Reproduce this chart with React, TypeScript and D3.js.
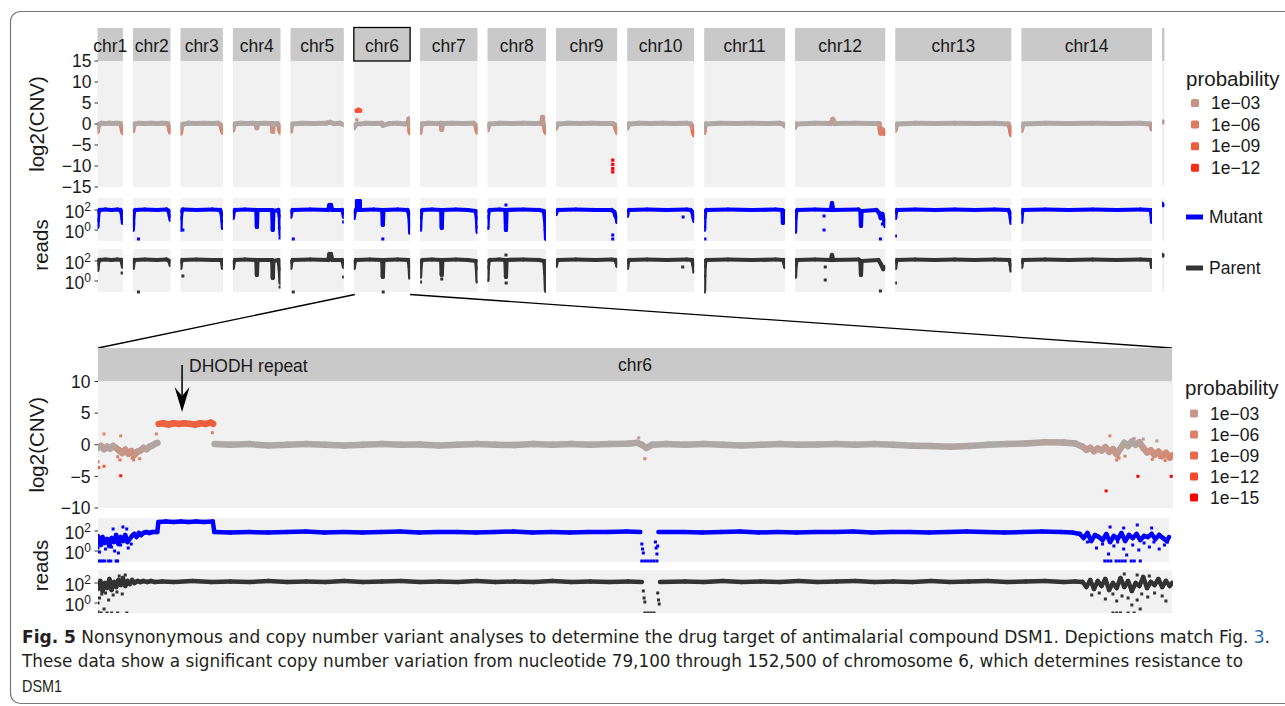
import React from "react";
import * as d3 from "d3";

type Pt = [number, number];
type Sc = [number, number, number];

// ---------------- data ----------------
const chromosomes = ["chr1", "chr2", "chr3", "chr4", "chr5", "chr6", "chr7", "chr8", "chr9", "chr10", "chr11", "chr12", "chr13", "chr14", "API"];
const chrLengthMb = [0.640, 0.947, 1.068, 1.200, 1.344, 1.418, 1.446, 1.473, 1.542, 1.688, 2.039, 2.272, 2.925, 3.292, 0.035];

// genome-wide log2(CNV) profiles [Mb, log2]; NaN = no coverage gap
const cnvTop: Pt[][] = [
  [[0,-1.8],[0.01,-1.0],[0.03,-0.1],[0.1,0.2],[0.2,0.1],[0.3,0.2],[0.4,0.1],[0.5,0.2],[0.58,0.1],[0.605,-0.5],[0.625,-1.4],[0.64,-2.1]],
  [[0,-1.6],[0.015,-0.6],[0.04,0.0],[0.15,0.2],[0.3,0.1],[0.45,0.2],[0.6,0.1],[0.75,0.2],[0.88,0.1],[0.91,-0.6],[0.93,-1.5],[0.947,-2.0]],
  [[0,-2.2],[0.02,-1.0],[0.05,-0.1],[0.2,0.2],[0.4,0.1],[0.6,0.2],[0.8,0.1],[0.95,0.2],[1.02,-0.3],[1.045,-1.2],[1.068,-2.0]],
  [[0,-1.5],[0.02,-0.5],[0.05,0.0],[0.2,0.2],[0.35,0.1],[0.5,0.2],[0.59,0.1],[0.605,-0.9],[0.62,0.1],[0.8,0.2],[0.99,0.1],[1.005,-1.8],[1.02,0.0],[1.12,0.1],[1.16,-0.4],[1.18,-1.4],[1.2,-2.0]],
  [[0,-1.8],[0.02,-0.6],[0.05,0.0],[0.3,0.2],[0.6,0.1],[0.9,0.2],[1.0,0.4],[1.1,0.1],[1.25,0.2],[1.344,-0.2]],
  [[0,-0.9],[0.02,-0.4],[0.05,-0.2],[0.078,0.0],[0.0785,NaN],[0.079,3.2],[0.115,3.3],[0.152,3.2],[0.1525,NaN],[0.153,0.0],[0.3,0.2],[0.5,0.1],[0.7,0.2],[0.73,-0.3],[0.9,0.1],[1.1,0.2],[1.3,0.0],[1.37,0.3],[1.385,1.2],[1.395,0.0],[1.41,-1.5],[1.418,-2.1]],
  [[0,-2.0],[0.015,-0.8],[0.04,0.0],[0.2,0.2],[0.4,0.1],[0.53,0.2],[0.545,-1.3],[0.56,0.1],[0.8,0.2],[1.1,0.1],[1.35,0.2],[1.40,-0.3],[1.425,-1.2],[1.446,-2.0]],
  [[0,-1.4],[0.02,-0.5],[0.05,0.0],[0.3,0.2],[0.6,0.1],[0.9,0.2],[1.2,0.1],[1.37,0.2],[1.385,1.6],[1.40,0.1],[1.44,-0.8],[1.455,-1.6],[1.473,-2.0]],
  [[0,-1.0],[0.02,-0.3],[0.05,0.0],[0.3,0.2],[0.6,0.1],[0.9,0.2],[1.2,0.1],[1.42,0.1],[1.48,-0.2],[1.51,-1.0],[1.542,-2.0]],
  [[0,-1.0],[0.02,-0.3],[0.05,0.0],[0.3,0.2],[0.6,0.1],[0.9,0.2],[1.2,0.1],[1.5,0.2],[1.6,0.0],[1.64,-0.6],[1.665,-1.8],[1.688,-2.6]],
  [[0,-2.0],[0.015,-0.8],[0.04,0.0],[0.4,0.2],[0.8,0.1],[1.2,0.2],[1.6,0.1],[1.9,0.2],[2.0,-0.1],[2.039,-0.5]],
  [[0,-0.8],[0.03,0.0],[0.5,0.2],[0.9,0.1],[0.95,1.1],[1.0,0.1],[1.5,0.2],[1.9,0.1],[2.12,0.1],[2.14,-1.2],[2.16,-2.2],[2.2,-1.4],[2.24,-2.2],[2.272,-1.9]],
  [[0,-1.5],[0.02,-0.5],[0.05,0.0],[0.5,0.2],[1.0,0.1],[1.5,0.2],[2.0,0.1],[2.5,0.2],[2.85,0.0],[2.89,-0.8],[2.91,-1.8],[2.925,-2.6]],
  [[0,-1.6],[0.02,-0.6],[0.05,0.0],[0.6,0.2],[1.2,0.1],[1.8,0.2],[2.4,0.1],[3.0,0.2],[3.25,0.0],[3.275,-0.6],[3.292,-1.2]],
  [[0.005,0.5],[0.015,0.5]],
];
// [chromosome index, Mb, log2]
const cnvTopScatter: Sc[] = [[8,1.43,-8.6],[8,1.43,-9.6],[8,1.43,-10.6],[8,1.43,-11.4],[5,0.076,1.0]];

// genome-wide read depth profiles [Mb, log10 reads]
const mutantTop: Pt[][] = [
  [[0,0.3],[0.01,1.0],[0.025,1.8],[0.05,2.0],[0.2,2.05],[0.35,2.0],[0.5,2.05],[0.58,2.0],[0.61,1.7],[0.63,1.1],[0.64,0.7]],
  [[0,0.0],[0.01,1.2],[0.03,1.9],[0.06,2.0],[0.3,2.05],[0.6,2.0],[0.85,2.05],[0.9,1.9],[0.93,1.4],[0.947,1.0]],
  [[0,0.0],[0.01,1.2],[0.03,1.9],[0.06,2.05],[0.4,2.0],[0.8,2.05],[1.0,2.0],[1.04,1.6],[1.058,0.9],[1.068,0.2]],
  [[0,1.2],[0.02,1.8],[0.05,2.0],[0.3,2.05],[0.59,2.0],[0.605,0.3],[0.62,2.0],[0.99,2.0],[1.005,0.0],[1.02,1.9],[1.15,2.0],[1.18,1.4],[1.2,-0.5]],
  [[0,1.3],[0.02,1.8],[0.05,2.0],[0.5,2.05],[0.95,2.0],[0.98,2.5],[1.02,2.5],[1.05,2.0],[1.3,2.0],[1.33,1.7],[1.344,1.3]],
  [[0,1.2],[0.02,1.8],[0.05,2.0],[0.078,2.0],[0.079,2.9],[0.152,2.9],[0.153,2.0],[0.5,2.05],[0.715,2.0],[0.73,0.5],[0.745,2.0],[1.1,2.05],[1.35,2.0],[1.39,1.6],[1.41,0.8],[1.418,-0.3]],
  [[0,0.0],[0.01,1.2],[0.03,1.9],[0.06,2.0],[0.3,2.05],[0.53,2.0],[0.545,0.2],[0.56,2.0],[0.9,2.05],[1.2,2.0],[1.4,1.9],[1.43,1.2],[1.446,-0.2]],
  [[0,0.2],[0.01,1.3],[0.03,1.9],[0.06,2.0],[0.3,2.05],[0.45,2.0],[0.465,0.0],[0.48,2.0],[0.9,2.05],[1.3,2.0],[1.42,1.9],[1.45,1.0],[1.465,0.0],[1.473,-0.9]],
  [[0,1.6],[0.02,1.9],[0.05,2.0],[0.5,2.05],[1.0,2.0],[1.4,2.0],[1.47,1.8],[1.5,1.4],[1.53,1.2],[1.542,0.8]],
  [[0,1.4],[0.02,1.9],[0.05,2.0],[0.5,2.05],[1.0,2.0],[1.5,2.05],[1.6,2.0],[1.64,1.8],[1.67,1.3],[1.688,0.9]],
  [[0,0.0],[0.01,1.3],[0.03,1.9],[0.06,2.0],[0.6,2.05],[1.2,2.0],[1.8,2.05],[1.97,2.0],[1.985,0.7],[2.0,1.9],[2.039,1.9]],
  [[0,-0.2],[0.01,1.2],[0.03,1.9],[0.06,2.0],[0.5,2.05],[0.9,2.0],[0.93,2.7],[0.96,2.0],[1.6,2.05],[1.645,1.9],[1.66,0.4],[1.675,1.9],[2.05,2.0],[2.12,1.7],[2.16,1.2],[2.2,1.6],[2.24,1.0],[2.272,0.4]],
  [[0,1.2],[0.015,1.8],[0.04,2.0],[0.5,2.05],[1.0,2.0],[1.5,2.05],[2.0,2.0],[2.5,2.05],[2.85,2.0],[2.89,1.7],[2.91,1.2],[2.925,0.7]],
  [[0,0.8],[0.015,1.7],[0.04,2.0],[0.6,2.05],[1.2,2.0],[1.8,2.05],[2.4,2.0],[3.0,2.05],[3.26,2.0],[3.28,1.5],[3.292,0.8]],
  [[0.005,2.6],[0.015,2.5]],
];
const mutantTopScatter: Sc[] = [[0,0.635,0.8],[1,0.14,-0.9],[1,0.02,0.6],[2,0.06,0.0],[2,1.06,0.2],[3,0.61,0.8],[3,1.17,0.2],[3,1.19,-0.8],[4,0.07,-0.9],[4,1.34,0.8],[5,0.73,-0.9],[5,0.74,0.9],[5,1.41,0.4],[6,0.01,0.4],[6,0.55,0.9],[6,1.44,0.3],[7,0.005,0.2],[7,0.465,2.5],[7,0.47,0.6],[7,1.47,-0.8],[8,1.43,-0.9],[8,1.43,-0.5],[9,1.41,1.3],[10,0.01,0.3],[10,0.02,-0.9],[11,0.73,0.0],[11,0.73,1.4],[11,2.15,-0.9],[11,2.2,0.6],[12,0.005,-0.6]];

const parentTop: Pt[][] = [
  [[0,1.1],[0.015,1.8],[0.04,2.1],[0.2,2.15],[0.35,2.1],[0.5,2.15],[0.6,2.1],[0.625,1.8],[0.64,1.4]],
  [[0,1.3],[0.015,1.9],[0.04,2.1],[0.3,2.15],[0.6,2.1],[0.85,2.15],[0.92,2.0],[0.947,1.6]],
  [[0,1.3],[0.015,1.9],[0.04,2.1],[0.4,2.15],[0.8,2.1],[1.04,2.1],[1.058,1.7],[1.068,1.3]],
  [[0,1.3],[0.02,1.9],[0.05,2.1],[0.3,2.15],[0.59,2.1],[0.605,0.6],[0.62,2.1],[0.99,2.1],[1.005,0.3],[1.02,2.0],[1.15,2.1],[1.18,1.2],[1.2,-0.2]],
  [[0,1.3],[0.02,1.9],[0.05,2.1],[0.5,2.15],[0.95,2.1],[0.98,2.7],[1.02,2.7],[1.05,2.1],[1.3,2.1],[1.33,1.8],[1.344,1.4]],
  [[0,1.3],[0.02,1.9],[0.05,2.1],[0.4,2.15],[0.715,2.1],[0.73,0.4],[0.745,2.1],[1.1,2.15],[1.38,2.1],[1.405,1.4],[1.418,0.4]],
  [[0,0.4],[0.01,1.4],[0.03,2.0],[0.06,2.1],[0.3,2.15],[0.53,2.1],[0.545,0.6],[0.56,2.1],[0.9,2.15],[1.2,2.1],[1.41,2.0],[1.43,1.3],[1.446,0.0]],
  [[0,0.1],[0.01,1.4],[0.03,2.0],[0.06,2.1],[0.3,2.15],[0.45,2.1],[0.465,0.4],[0.48,2.1],[0.9,2.15],[1.3,2.1],[1.43,2.0],[1.455,0.8],[1.473,-1.0]],
  [[0,1.5],[0.02,2.0],[0.05,2.1],[0.5,2.15],[1.0,2.1],[1.4,2.15],[1.5,2.1],[1.53,1.8],[1.542,1.5]],
  [[0,1.3],[0.02,1.9],[0.05,2.1],[0.5,2.15],[1.0,2.1],[1.5,2.15],[1.64,2.1],[1.67,1.6],[1.688,1.1]],
  [[0,-0.9],[0.005,0.5],[0.015,1.5],[0.03,2.0],[0.06,2.1],[0.6,2.15],[1.2,2.1],[1.8,2.15],[2.0,2.1],[2.039,1.4]],
  [[0,0.4],[0.015,1.6],[0.04,2.1],[0.5,2.15],[0.9,2.1],[0.93,2.6],[0.96,2.1],[1.6,2.15],[1.645,2.0],[1.66,0.6],[1.675,2.0],[2.1,2.1],[2.16,1.7],[2.22,1.2],[2.272,1.4]],
  [[0,1.3],[0.015,1.9],[0.04,2.1],[0.5,2.15],[1.0,2.1],[1.5,2.15],[2.0,2.1],[2.5,2.15],[2.88,2.1],[2.91,1.6],[2.925,1.1]],
  [[0,1.4],[0.015,1.9],[0.04,2.1],[0.6,2.15],[1.2,2.1],[1.8,2.15],[2.4,2.1],[3.0,2.15],[3.27,2.1],[3.285,1.7],[3.292,1.4]],
  [[0.005,2.6],[0.015,2.55]],
];
const parentTopScatter: Sc[] = [[0,0.62,0.8],[1,0.14,-1.1],[2,0.06,0.5],[3,0.62,1.0],[3,1.19,-0.6],[4,0.07,-1.1],[4,1.34,0.4],[5,0.73,0.8],[5,0.74,-1.1],[5,1.41,0.3],[6,0.01,-0.1],[6,0.545,0.2],[6,1.44,-0.1],[7,0.005,0.1],[7,0.465,2.6],[7,0.47,-0.2],[7,1.47,-0.6],[9,1.40,1.4],[9,1.68,0.9],[10,0.005,-1.1],[11,0.76,1.4],[11,0.76,0.1],[11,2.15,-1.0],[12,0.005,-0.2],[12,2.92,1.0]];

// chr6 zoom [kb, value]
const zoomChromosome = "chr6";
const zoomLengthKb = 1418;
const cnvBottom: Pt[] = [
  [0,-0.5],[4,-0.2],[8,-0.7],[12,-0.3],[16,-0.6],[20,-0.2],[24,-0.5],[28,-0.9],[32,-1.3],[36,-0.8],[40,-1.4],[44,-1.0],[48,-1.6],[52,-1.1],[56,-0.9],[60,-0.5],[64,-0.7],[68,-0.3],[72,-0.1],[76,0.2],[78.5,0.3],[79,NaN],
  [80,3.3],[86,3.4],[93,3.2],[100,3.4],[107,3.3],[114,3.4],[121,3.3],[128,3.2],[135,3.4],[142,3.3],[149,3.5],[152,3.3],[152.5,NaN],
  [154,0.1],[175,0.0],[200,0.1],[225,-0.1],[250,0.0],[275,0.1],[300,0.0],[325,-0.1],[350,0.0],[375,0.1],[400,0.0],[425,0.05],[450,-0.1],[475,0.0],[500,0.1],[525,0.0],[550,-0.05],[575,0.1],[600,0.0],[625,0.1],[650,0.0],[675,0.1],[700,0.15],[712,0.3],[718,0.0],[724,-0.5],[732,0.0],[750,0.1],[775,0.0],[800,0.1],[825,0.0],[850,-0.1],[875,0.0],[900,0.1],[925,0.0],[950,0.05],[975,0.1],[1000,0.0],[1025,0.1],[1050,0.0],[1075,-0.15],[1100,-0.2],[1125,-0.3],[1150,-0.2],[1175,0.0],[1200,0.1],[1225,0.2],[1250,0.4],[1275,0.35],[1290,0.2],
  [1300,-0.3],[1305,-0.8],[1310,-0.5],[1315,-1.0],[1320,-0.6],[1325,-0.9],[1330,-0.4],[1335,-1.1],[1340,-0.7],[1345,-1.5],[1350,-0.6],[1355,0.3],[1360,-0.2],[1365,0.5],[1370,0.0],[1375,0.4],[1380,-0.5],[1385,-1.2],[1390,-0.9],[1395,-1.6],[1400,-1.1],[1405,-1.8],[1410,-1.3],[1415,-2.0],[1418,-1.7],
];
const cnvBottomScatter: Pt[] = [[0,-2.7],[1,-3.6],[8,-3.4],[8,1.7],[30,-4.9],[30,1.4],[29,-2.4],[47,-2.4],[26,-1.9],[45,-2.1],[55,-2.2],[77,1.7],[151,1.9],[722,-2.2],[714,1.1],[1336,1.4],[1331,-7.3],[1373,-5.0],[1417,-5.0],[1345,-2.4],[1348,-2.1],[1368,1.0],[1392,-2.3],[1402,-2.0],[1409,-2.5],[1356,-1.8],[1380,0.9],[1398,0.6]];

const mutantBottom: Pt[] = [
  [0,1.5],[3,0.6],[6,1.4],[9,0.8],[12,1.2],[15,0.5],[18,1.3],[21,0.9],[24,1.6],[27,0.7],[30,1.4],[33,1.0],[36,1.6],[39,0.9],[42,1.2],[45,1.5],[48,1.7],[51,1.4],[54,1.8],[57,1.6],[60,1.8],[64,1.9],[68,1.8],[72,1.9],[76,1.9],[78.5,1.9],
  [80,2.9],[90,2.95],[100,2.9],[110,2.95],[120,2.9],[130,2.95],[140,2.9],[152,2.95],
  [154,1.9],[175,1.85],[200,1.9],[225,1.85],[250,1.9],[275,1.95],[300,1.85],[325,1.9],[350,1.85],[375,1.9],[400,1.95],[425,1.85],[450,1.9],[475,1.9],[500,1.85],[525,1.9],[550,1.95],[575,1.85],[600,1.9],[625,1.85],[650,1.9],[675,1.9],[700,1.95],[718,1.9],[730,NaN],[742,1.9],[775,1.9],[800,1.85],[825,1.9],[850,1.95],[875,1.85],[900,1.9],[925,1.85],[950,1.9],[975,1.9],[1000,1.95],[1025,1.85],[1050,1.9],[1075,1.9],[1100,1.85],[1125,1.9],[1150,1.95],[1175,1.9],[1200,1.85],[1225,1.9],[1250,1.95],[1275,1.9],[1290,1.85],
  [1300,1.7],[1305,1.3],[1310,1.8],[1315,1.0],[1320,1.6],[1325,1.4],[1330,1.1],[1335,1.7],[1340,0.9],[1345,1.5],[1350,1.2],[1355,1.8],[1360,1.0],[1365,1.6],[1370,1.3],[1375,1.7],[1380,1.1],[1385,1.5],[1390,1.4],[1395,1.7],[1400,1.2],[1405,1.6],[1410,1.3],[1415,1.0],[1418,1.4],
];
const mutantBottomScatter: Pt[] = [[0,0.3],[2,-0.1],[5,0.6],[10,0.2],[13,0.9],[18,0.4],[22,0.0],[27,-0.2],[30,0.6],[20,2.2],[33,2.4],[38,2.2],[44,0.7],[40,0.3],
  [0,-1],[3,-1],[6,-1],[9,-1],[14,-1],[17,-1],[24,-1],[26,-1],
  [720,0.7],[721,0.2],[722,-0.2],[738,0.9],[739,0.3],[740,-0.3],[741,0.5],[720,-1],[724,-1],[728,-1],[732,-1],[736,-1],[740,-1],
  [1310,0.9],[1322,0.3],[1330,0.7],[1338,-0.3],[1345,0.5],[1350,0.9],[1358,0.2],[1362,-0.4],[1370,0.6],[1378,0.1],[1385,0.8],[1392,0.4],[1398,0.9],[1405,0.2],[1412,0.6],[1416,0.9],[1340,2.4],[1358,2.3],[1376,2.6],[1395,2.3],
  [1333,-1],[1337,-1],[1341,-1],[1348,-1],[1352,-1],[1356,-1],[1360,-1],[1368,-1],[1372,-1],[1380,-1]];

const parentBottom: Pt[] = [
  [0,1.4],[3,2.2],[6,1.2],[9,2.0],[12,1.5],[15,2.4],[18,1.3],[21,2.1],[24,1.6],[27,2.3],[30,1.8],[33,2.5],[36,1.7],[39,2.2],[42,1.9],[45,2.3],[48,2.0],[52,2.2],[56,2.1],[60,2.2],[65,2.1],[70,2.2],[75,2.1],[85,2.15],[100,2.1],[125,2.2],[150,2.1],[175,2.15],[200,2.1],[225,2.2],[250,2.1],[275,2.15],[300,2.1],[325,2.2],[350,2.1],[375,2.15],[400,2.2],[425,2.1],[450,2.15],[475,2.1],[500,2.2],[525,2.1],[550,2.15],[575,2.1],[600,2.2],[625,2.1],[650,2.15],[675,2.1],[700,2.15],[718,2.1],[730,NaN],[742,2.1],[775,2.15],[800,2.1],[825,2.2],[850,2.1],[875,2.15],[900,2.1],[925,2.2],[950,2.1],[975,2.15],[1000,2.2],[1025,2.1],[1050,2.15],[1075,2.1],[1100,2.2],[1125,2.1],[1150,2.15],[1175,2.2],[1200,2.1],[1225,2.15],[1250,2.2],[1275,2.1],[1290,2.15],
  [1300,2.1],[1305,1.6],[1310,2.3],[1315,1.4],[1320,2.2],[1325,1.7],[1330,2.4],[1335,1.3],[1340,2.0],[1345,1.5],[1350,2.5],[1355,1.6],[1360,2.2],[1365,1.2],[1370,2.0],[1375,1.7],[1380,2.6],[1385,1.5],[1390,2.1],[1395,1.8],[1400,2.4],[1405,1.6],[1410,2.2],[1415,1.7],[1418,2.0],
];
const parentBottomScatter: Pt[] = [[0,0.0],[2,0.5],[5,0.9],[10,1.0],[14,0.3],[20,0.8],[25,1.1],[32,0.9],[28,2.7],[36,2.8],[0,-0.9],[4,-1],[8,-0.6],[12,-1],[18,-1],[26,-1],[38,-1],
  [720,1.2],[721,0.5],[722,0.1],[739,1.0],[740,0.3],[741,-0.1],[722,-1],[726,-1],[730,-1],[734,-1],
  [1312,0.8],[1322,1.0],[1330,0.4],[1340,0.9],[1345,0.2],[1352,0.7],[1360,0.5],[1365,-0.2],[1372,0.3],[1378,0.9],[1386,0.6],[1395,1.0],[1405,0.7],[1410,0.2],[1372,2.8],[1388,2.7],[1355,2.9],[1340,-1],[1345,-1],[1350,-1],[1360,-1],[1368,-1],[1376,-0.6]];

const cnvTopTicks = [15, 10, 5, 0, -5, -10, -15];
const cnvBottomTicks = [10, 5, 0, -5, -10];
const readTicks = [2, 0];
const probBreaksTop = [3, 6, 9, 12];
const probBreaksBottom = [3, 6, 9, 12, 15];
const readSeries = ["Mutant", "Parent"];
const readColors = ["#0000ff", "#333333"];
const annotationLabel = "DHODH repeat";
const annotationKb = 111;

const captionBold = "Fig. 5";
const captionLine1 = "  Nonsynonymous and copy number variant analyses to determine the drug target of antimalarial compound DSM1. Depictions match Fig. ";
const captionLink = "3";
const captionLine2 = "These data show a significant copy number variation from nucleotide 79,100 through 152,500 of chromosome 6, which determines resistance to";
const captionLine3 = "DSM1";

// ---------------- layout ----------------
const FONT = "'Liberation Sans', Arial, Helvetica, sans-serif";
const W = 1285, H = 706;
const X_LEFT = 97.5, X_RIGHT = 1152, GAP = 10;
const TOP = { strip: [28, 61], cnv: [61, 187], mut: [198, 241], par: [249, 292] };
const BOT = { strip: [348, 381.5], cnv: [381.5, 508], mut: [518, 562], par: [570, 613] };
const BX0 = 98, BX1 = 1172;

const mainLen = d3.sum(chrLengthMb.slice(0, 14));
const pxPerMb = (X_RIGHT - X_LEFT - GAP * 13) / mainLen;
const facets = chromosomes.map((name, i) => {
  const x = X_LEFT + d3.sum(chrLengthMb.slice(0, i)) * pxPerMb + GAP * i;
  const w = Math.max(2.5, chrLengthMb[i] * pxPerMb);
  return { name, x, w, xs: d3.scaleLinear().domain([0, chrLengthMb[i]]).range([x, x + w]) };
});

const yCnvTop = d3.scaleLinear().domain([-15, 15]).range([TOP.cnv[1], TOP.cnv[0]]);
const yMutTop = d3.scaleLinear().domain([-1.1, 3.2]).range([TOP.mut[1], TOP.mut[0]]);
const yParTop = d3.scaleLinear().domain([-1.1, 3.2]).range([TOP.par[1], TOP.par[0]]);
const yCnvBot = d3.scaleLinear().domain([-10, 10]).range([BOT.cnv[1], BOT.cnv[0]]);
const yMutBot = d3.scaleLinear().domain([-1.1, 3.3]).range([BOT.mut[1], BOT.mut[0]]);
const yParBot = d3.scaleLinear().domain([-1.0, 3.3]).range([BOT.par[1], BOT.par[0]]);
const xBot = d3.scaleLinear().domain([0, zoomLengthKb]).range([BX0, BX1]);
const xBotMut = d3.scaleLinear().domain([0, zoomLengthKb]).range([BX0, 1169]);

const grad = d3.interpolateLab("#aaaaaa", "#ff0000");
const score = (v: number) => 3 * Math.abs(v); // -log10 probability
const colorTop = (v: number) => grad(Math.min(1, score(v) / 13));
const colorBot = (v: number) => grad(Math.min(1, score(v) / 15));
const legendColorTop = (k: number) => grad(Math.min(1, k / 13));
const legendColorBot = (k: number) => grad(Math.min(1, k / 15));

function band(pts: Pt[], xs: (v: number) => number, ys: (v: number) => number, col: (v: number) => string, width: number, key: string) {
  const out: React.ReactNode[] = [];
  for (let i = 0; i < pts.length - 1; i++) {
    const [a, va] = pts[i];
    const [b, vb] = pts[i + 1];
    if (isNaN(va) || isNaN(vb)) continue;
    out.push(<line key={key + i} x1={xs(a)} y1={ys(va)} x2={xs(b)} y2={ys(vb)} stroke={col((Math.abs(va) + Math.abs(vb)) / 2)} strokeWidth={width} strokeLinecap="round" />);
  }
  return out;
}

function dots(pts: Pt[], xs: (v: number) => number, ys: (v: number) => number, col: (v: number) => string, key: string, s = 3) {
  return pts.map(([a, v], i) => <rect key={key + i} x={xs(a) - s / 2} y={ys(v) - s / 2} width={s} height={s} fill={col(v)} />);
}

function ReadTick({ x, y, e }: { x: number; y: number; e: number }) {
  return (
    <g>
      <line x1={94.5} x2={98} y1={y} y2={y} stroke="#333" strokeWidth={1} />
      <text x={x} y={y + 7.5} textAnchor="end" fontSize={17.5} fill="#1a1a1a">10<tspan dy={-7} fontSize={12}>{e}</tspan></text>
    </g>
  );
}

export default function App() {
  const blue = () => readColors[0];
  const dark = () => readColors[1];
  const ax = xBot(annotationKb);
  return (
    <svg width={W} height={H} viewBox={`0 0 ${W} ${H}`} style={{ position: "absolute", left: 0, top: 0, display: "block", background: "#fff" }} fontFamily={FONT}>
      <defs>
        {facets.map((f, i) => (
          <clipPath id={"cf" + i} key={i}><rect x={f.x} y={0} width={f.w} height={300} /></clipPath>
        ))}
        <clipPath id="cb"><rect x={BX0} y={BOT.cnv[0]} width={BX1 - BX0 + 1} height={BOT.par[1] - BOT.cnv[0]} /></clipPath>
      </defs>
      {/* frame */}
      <rect x={10.5} y={11.5} width={1300} height={692} rx={10} fill="none" stroke="#777" strokeWidth={1.2} />

      {/* ---------- top: genome-wide ---------- */}
      {facets.map((f, i) => (
        <g key={"f" + i}>
          <rect x={f.x} y={TOP.strip[0]} width={f.w} height={TOP.strip[1] - TOP.strip[0]} fill="#c9c9c9" />
          <rect x={f.x} y={TOP.cnv[0]} width={f.w} height={TOP.cnv[1] - TOP.cnv[0]} fill="#f1f1f1" />
          <rect x={f.x} y={TOP.mut[0]} width={f.w} height={TOP.mut[1] - TOP.mut[0]} fill="#f1f1f1" />
          <rect x={f.x} y={TOP.par[0]} width={f.w} height={TOP.par[1] - TOP.par[0]} fill="#f1f1f1" />
          {f.w > 10 && (
            <text x={f.x + f.w / 2} y={51.5} textAnchor="middle" fontSize={17.5} fill="#1a1a1a">{f.name}</text>
          )}
          <g clipPath={`url(#cf${i})`}>
            {band(cnvTop[i], f.xs, yCnvTop, colorTop, 5, "c" + i)}
            {band(mutantTop[i], f.xs, yMutTop, blue, 4.2, "m" + i)}
            {band(parentTop[i], f.xs, yParTop, dark, 4.2, "p" + i)}
            {dots(cnvTopScatter.filter((d) => d[0] === i).map((d) => [d[1], d[2]] as Pt), f.xs, yCnvTop, colorTop, "cs" + i, 3.2)}
            {dots(mutantTopScatter.filter((d) => d[0] === i).map((d) => [d[1], d[2]] as Pt), f.xs, yMutTop, blue, "ms" + i)}
            {dots(parentTopScatter.filter((d) => d[0] === i).map((d) => [d[1], d[2]] as Pt), f.xs, yParTop, dark, "ps" + i)}
          </g>
        </g>
      ))}
      {/* highlight chr6 strip */}
      {facets.filter((f) => f.name === zoomChromosome).map((f) => (
        <rect key="hl" x={f.x} y={TOP.strip[0] - 0.5} width={f.w} height={TOP.strip[1] - TOP.strip[0] + 0.5} fill="none" stroke="#000" strokeWidth={1.3} />
      ))}
      {/* top axes */}
      {cnvTopTicks.map((t) => (
        <g key={"tt" + t}>
          <line x1={94.5} x2={98} y1={yCnvTop(t)} y2={yCnvTop(t)} stroke="#333" strokeWidth={1} />
          <text x={91.5} y={yCnvTop(t) + 6.2} textAnchor="end" fontSize={17.5} fill="#1a1a1a">{t < 0 ? "\u2212" + Math.abs(t) : t}</text>
        </g>
      ))}
      {readTicks.map((t) => <ReadTick key={"rm" + t} x={91} y={yMutTop(t)} e={t} />)}
      {readTicks.map((t) => <ReadTick key={"rp" + t} x={91} y={yParTop(t)} e={t} />)}
      <text transform={`translate(44,${(TOP.cnv[0] + TOP.cnv[1]) / 2}) rotate(-90)`} textAnchor="middle" fontSize={20.5} fill="#1a1a1a">log2(CNV)</text>
      <text transform={`translate(47.5,${(TOP.mut[0] + TOP.par[1]) / 2}) rotate(-90)`} textAnchor="middle" fontSize={20.5} fill="#1a1a1a">reads</text>

      {/* top legends */}
      <text x={1186} y={85.5} fontSize={20.5} fill="#1a1a1a">probability</text>
      {probBreaksTop.map((k, i) => {
        const cy = 103 + i * 21.6;
        return (
          <g key={"lt" + k}>
            <rect x={1191} y={cy - 4} width={8} height={8} rx={1.5} fill={legendColorTop(k)} />
            <text x={1211} y={cy + 6.2} fontSize={17.5} fill="#1a1a1a">{"1e\u2212" + String(k).padStart(2, "0")}</text>
          </g>
        );
      })}
      {readSeries.map((s, i) => {
        const cy = i === 0 ? 217 : 268;
        return (
          <g key={"ls" + s}>
            <line x1={1186} x2={1203} y1={cy} y2={cy} stroke={readColors[i]} strokeWidth={5} />
            <text x={1209} y={cy + 6.3} fontSize={17.5} fill="#1a1a1a">{s}</text>
          </g>
        );
      })}

      {/* zoom connector lines */}
      {facets.filter((f) => f.name === zoomChromosome).map((f) => (
        <g key="conn">
          <line x1={BX0} y1={BOT.strip[0]} x2={f.x + 1} y2={294.5} stroke="#000" strokeWidth={1.3} />
          <line x1={f.x + f.w} y1={294.5} x2={BX1} y2={BOT.strip[0]} stroke="#000" strokeWidth={1.3} />
        </g>
      ))}

      {/* ---------- bottom: chr6 ---------- */}
      <rect x={BX0} y={BOT.strip[0]} width={BX1 - BX0} height={BOT.strip[1] - BOT.strip[0]} fill="#c9c9c9" />
      <text x={(BX0 + BX1) / 2} y={371} textAnchor="middle" fontSize={17.5} fill="#1a1a1a">{zoomChromosome}</text>
      <rect x={BX0} y={BOT.cnv[0]} width={BX1 - BX0 + 1} height={BOT.cnv[1] - BOT.cnv[0]} fill="#f1f1f1" />
      <rect x={BX0} y={BOT.mut[0]} width={1169 - BX0} height={BOT.mut[1] - BOT.mut[0]} fill="#f1f1f1" />
      <rect x={BX0} y={BOT.par[0]} width={BX1 - BX0} height={BOT.par[1] - BOT.par[0]} fill="#f1f1f1" />
      <g clipPath="url(#cb)">
        {band(cnvBottom, xBot, yCnvBot, colorBot, 6.5, "bc")}
        {dots(cnvBottomScatter, xBot, yCnvBot, colorBot, "bcs")}
        {band(mutantBottom, xBotMut, yMutBot, blue, 4.5, "bm")}
        {dots(mutantBottomScatter, xBotMut, yMutBot, blue, "bms")}
        {band(parentBottom, xBot, yParBot, dark, 4.5, "bp")}
        {dots(parentBottomScatter, xBot, yParBot, dark, "bps")}
      </g>
      {cnvBottomTicks.map((t) => (
        <g key={"bt" + t}>
          <line x1={94.5} x2={98} y1={yCnvBot(t)} y2={yCnvBot(t)} stroke="#333" strokeWidth={1} />
          <text x={90.5} y={yCnvBot(t) + 6.2} textAnchor="end" fontSize={17.5} fill="#1a1a1a">{t < 0 ? "\u2212" + Math.abs(t) : t}</text>
        </g>
      ))}
      {readTicks.map((t) => <ReadTick key={"brm" + t} x={91} y={yMutBot(t)} e={t} />)}
      {readTicks.map((t) => <ReadTick key={"brp" + t} x={91} y={yParBot(t)} e={t} />)}
      <text transform={`translate(44,${(BOT.cnv[0] + BOT.cnv[1]) / 2}) rotate(-90)`} textAnchor="middle" fontSize={20.5} fill="#1a1a1a">log2(CNV)</text>
      <text transform={`translate(47.5,${(BOT.mut[0] + BOT.par[1]) / 2}) rotate(-90)`} textAnchor="middle" fontSize={20.5} fill="#1a1a1a">reads</text>

      {/* annotation */}
      <line x1={ax} x2={ax} y1={365} y2={397} stroke="#000" strokeWidth={1.5} />
      <path d={`M${ax},${412} L${ax - 7.5},${387} L${ax},${396} L${ax + 7.5},${387} Z`} fill="#000" />
      <text x={ax + 7} y={372} fontSize={17.5} fill="#1a1a1a">{annotationLabel}</text>

      {/* bottom legend */}
      <text x={1185} y={394.5} fontSize={20.5} fill="#1a1a1a">probability</text>
      {probBreaksBottom.map((k, i) => {
        const cy = 413.5 + i * 21;
        return (
          <g key={"lb" + k}>
            <rect x={1190} y={cy - 4} width={8} height={8} rx={1.5} fill={legendColorBot(k)} />
            <text x={1210} y={cy + 6.2} fontSize={17.5} fill="#1a1a1a">{"1e\u2212" + String(k).padStart(2, "0")}</text>
          </g>
        );
      })}

      {/* caption */}
      <g fontFamily="'Liberation Sans Narrow', 'DejaVu Sans Condensed', 'Liberation Sans', sans-serif" fontSize={17} fill="#231f20">
        <text x={22} y={643} textLength={1248} lengthAdjust="spacingAndGlyphs">
          <tspan fontWeight="bold">{captionBold}</tspan>
          <tspan>{captionLine1}</tspan>
          <tspan fill="#2e6bb4">{captionLink}</tspan>
          <tspan>.</tspan>
        </text>
        <text x={22} y={667} textLength={1221} lengthAdjust="spacingAndGlyphs">{captionLine2}</text>
        <text x={22} y={692} fontFamily="'Liberation Sans', sans-serif" textLength={40} lengthAdjust="spacingAndGlyphs">{captionLine3}</text>
      </g>
    </svg>
  );
}
